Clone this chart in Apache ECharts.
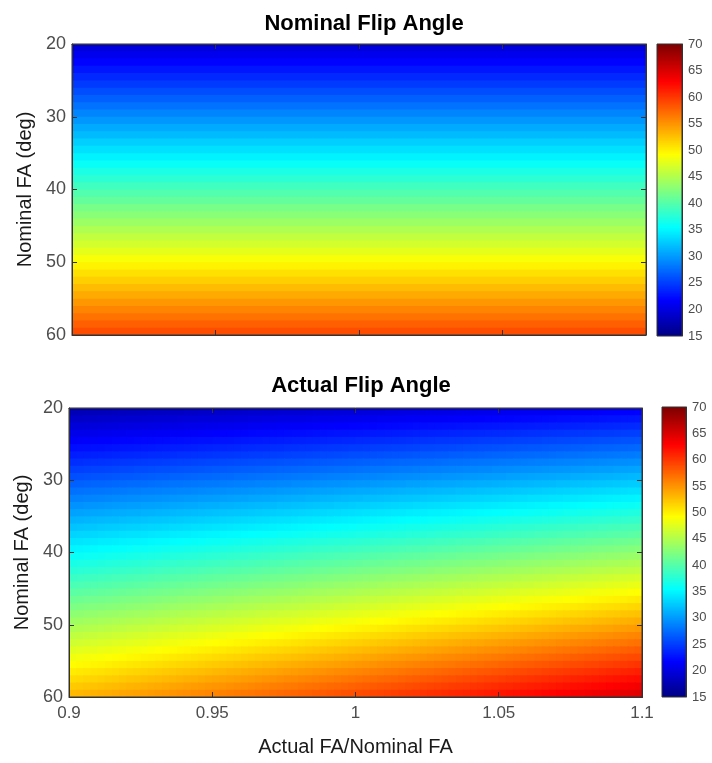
<!DOCTYPE html>
<html>
<head>
<meta charset="utf-8">
<script src="https://cdn.jsdelivr.net/npm/echarts@6/dist/echarts.min.js"></script>
<style>
  html, body { margin: 0; padding: 0; background: #fff; }
  #chart { width: 712px; height: 763px; }
</style>
</head>
<body>
<div id="chart"></div>
<script>
// nominal flip angles (rows, deg)
const nominalFA = [20, 21, 22, 23, 24, 25, 26, 27, 28, 29, 30, 31, 32, 33, 34, 35, 36, 37, 38, 39, 40,
  41, 42, 43, 44, 45, 46, 47, 48, 49, 50, 51, 52, 53, 54, 55, 56, 57, 58, 59, 60]
// B1 ratio actual/nominal (columns)
const faRatio = [0.9, 0.9025, 0.905, 0.9075, 0.91, 0.9125, 0.915, 0.9175, 0.92, 0.9225, 0.925, 0.9275,
  0.93, 0.9325, 0.935, 0.9375, 0.94, 0.9425, 0.945, 0.9475, 0.95, 0.9525, 0.955, 0.9575, 0.96, 0.9625,
  0.965, 0.9675, 0.97, 0.9725, 0.975, 0.9775, 0.98, 0.9825, 0.985, 0.9875, 0.99, 0.9925, 0.995, 0.9975,
  1.0, 1.0025, 1.005, 1.0075, 1.01, 1.0125, 1.015, 1.0175, 1.02, 1.0225, 1.025, 1.0275, 1.03, 1.0325,
  1.035, 1.0375, 1.04, 1.0425, 1.045, 1.0475, 1.05, 1.0525, 1.055, 1.0575, 1.06, 1.0625, 1.065, 1.0675,
  1.07, 1.0725, 1.075, 1.0775, 1.08, 1.0825, 1.085, 1.0875, 1.09, 1.0925, 1.095, 1.0975, 1.1]
const xTicks = [0.9, 0.95, 1, 1.05, 1.1]
const yTicks = [20, 30, 40, 50, 60]
const cbarTicks = [15, 20, 25, 30, 35, 40, 45, 50, 55, 60, 65, 70]
const cMin = 15, cMax = 70

// jet colormap
const jet = ['#000080', '#0000ff', '#0080ff', '#00ffff', '#80ff80', '#ffff00', '#ff8000', '#ff0000', '#800000']

// pcolor style cells: [x0, y0, value, x1, y1]
const nominalCells = []
const actualCells = []
for (let j = 0; j < nominalFA.length - 1; j++) {
  nominalCells.push([faRatio[0], nominalFA[j], nominalFA[j], faRatio[faRatio.length - 1], nominalFA[j + 1]])
  for (let i = 0; i < faRatio.length - 1; i++) {
    actualCells.push([faRatio[i], nominalFA[j], nominalFA[j] * faRatio[i], faRatio[i + 1], nominalFA[j + 1]])
  }
}
// colorbar strips
const cbarCells = []
for (let v = cMin; v < cMax; v += 0.25) cbarCells.push([0, v, v + 0.125, 1, v + 0.25])

const font = 'Liberation Sans, Arial, sans-serif'
const axisColor = '#333'
const labelColor = '#4d4d4d'

function renderCell(params, api) {
  const p0 = api.coord([api.value(0), api.value(1)])
  const p1 = api.coord([api.value(3), api.value(4)])
  const x = Math.min(p0[0], p1[0]), y = Math.min(p0[1], p1[1])
  return {
    type: 'rect',
    shape: { x: x, y: y, width: Math.abs(p1[0] - p0[0]) + 1, height: Math.abs(p1[1] - p0[1]) + 1 },
    style: { fill: api.visual('color') }
  }
}

function fmt(v) { return xTicks.indexOf(Math.round(v * 100) / 100) >= 0 ? String(Math.round(v * 100) / 100) : '' }

function plotX(grid, showLabels, name) {
  return [{
    gridIndex: grid, type: 'value', min: 0.9, max: 1.1, interval: 0.05, position: 'bottom', z: 6,
    axisLine: { onZero: false, lineStyle: { color: axisColor } },
    axisTick: { inside: true, length: 5, lineStyle: { color: axisColor } },
    axisLabel: { show: showLabels, formatter: fmt, fontFamily: font, fontSize: 17, color: labelColor, margin: 8 },
    splitLine: { show: false },
    name: name, nameLocation: 'middle', nameGap: 40,
    nameTextStyle: { fontFamily: font, fontSize: 20, color: '#1a1a1a' }
  }, {
    gridIndex: grid, type: 'value', min: 0.9, max: 1.1, interval: 0.05, position: 'top', z: 6,
    axisLine: { onZero: false, lineStyle: { color: axisColor } },
    axisTick: { inside: true, length: 5, lineStyle: { color: axisColor } },
    axisLabel: { show: false }, splitLine: { show: false }
  }]
}

function plotY(grid, gap) {
  return [{
    gridIndex: grid, type: 'value', min: 20, max: 60, interval: 10, inverse: true, position: 'left', z: 6,
    axisLine: { onZero: false, lineStyle: { color: axisColor } },
    axisTick: { inside: true, length: 5, lineStyle: { color: axisColor } },
    axisLabel: { fontFamily: font, fontSize: 18, color: labelColor, margin: 6,
      formatter: v => yTicks.indexOf(v) >= 0 ? String(v) : '' },
    splitLine: { show: false },
    name: 'Nominal FA (deg)', nameLocation: 'middle', nameGap: gap,
    nameTextStyle: { fontFamily: font, fontSize: 20, color: '#1a1a1a' }
  }, {
    gridIndex: grid, type: 'value', min: 20, max: 60, interval: 10, inverse: true, position: 'right', z: 6,
    axisLine: { onZero: false, lineStyle: { color: axisColor } },
    axisTick: { inside: true, length: 5, lineStyle: { color: axisColor } },
    axisLabel: { show: false }, splitLine: { show: false }
  }]
}

function cbarX(grid) {
  return { gridIndex: grid, type: 'value', min: 0, max: 1, show: false }
}
function cbarY(grid) {
  return {
    gridIndex: grid, type: 'value', min: cMin, max: cMax, interval: 5, position: 'right', z: 6,
    axisLine: { show: true, onZero: false, lineStyle: { color: axisColor } },
    axisTick: { show: false },
    axisLabel: { fontFamily: font, fontSize: 13, color: labelColor, margin: 6,
      formatter: v => cbarTicks.indexOf(v) >= 0 ? String(v) : '' },
    splitLine: { show: false }
  }
}

const gridStyle = { show: true, borderColor: axisColor, borderWidth: 1, backgroundColor: 'transparent', z: 5 }

const chart = echarts.init(document.getElementById('chart'), null, { renderer: 'canvas' })
chart.setOption({
  animation: false,
  backgroundColor: '#fff',
  title: [
    { text: 'Nominal Flip Angle', left: 359, top: 8, textAlign: 'center',
      textStyle: { fontFamily: font, fontSize: 22, fontWeight: 'bold', color: '#000' } },
    { text: 'Actual Flip Angle', left: 356, top: 370, textAlign: 'center',
      textStyle: { fontFamily: font, fontSize: 22, fontWeight: 'bold', color: '#000' } }
  ],
  grid: [
    Object.assign({ left: 72, top: 44, width: 574, height: 291 }, gridStyle),
    Object.assign({ left: 657, top: 44, width: 25, height: 292 }, gridStyle),
    Object.assign({ left: 69, top: 408, width: 573, height: 289 }, gridStyle),
    Object.assign({ left: 662, top: 407, width: 24, height: 290 }, gridStyle)
  ],
  xAxis: [
    ...plotX(0, false, ''),
    cbarX(1),
    ...plotX(2, true, 'Actual FA/Nominal FA'),
    cbarX(3)
  ],
  yAxis: [
    ...plotY(0, 37),
    cbarY(1),
    ...plotY(2, 34),
    cbarY(3)
  ],
  visualMap: {
    type: 'continuous', show: false, min: cMin, max: cMax, dimension: 2,
    seriesIndex: [0, 1, 2, 3],
    inRange: { color: jet }
  },
  series: [
    { type: 'custom', xAxisIndex: 0, yAxisIndex: 0, data: nominalCells, renderItem: renderCell, clip: true, z: 1 },
    { type: 'custom', xAxisIndex: 2, yAxisIndex: 2, data: cbarCells, renderItem: renderCell, clip: true, z: 1 },
    { type: 'custom', xAxisIndex: 3, yAxisIndex: 3, data: actualCells, renderItem: renderCell, clip: true, z: 1 },
    { type: 'custom', xAxisIndex: 5, yAxisIndex: 5, data: cbarCells, renderItem: renderCell, clip: true, z: 1 }
  ]
})
</script>
</body>
</html>
